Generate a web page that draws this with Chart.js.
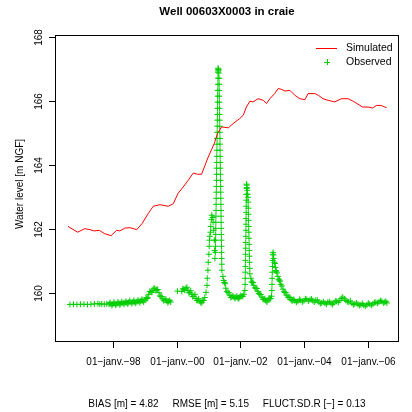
<!DOCTYPE html>
<html>
<head>
<meta charset="utf-8">
<script src="https://cdn.jsdelivr.net/npm/chart.js@4.4.0/dist/chart.umd.min.js"></script>
<style>
  html, body { margin: 0; padding: 0; background: #fff; }
  canvas { display: block; }
</style>
</head>
<body>
<canvas id="wellChart" width="412" height="412"></canvas>
<script>
// Chart texts
const chartTitle = 'Well 00603X0003 in craie';
const yAxisTitle = 'Water level [m NGF]';
const statsText = 'BIAS [m] = 4.82     RMSE [m] = 5.15     FLUCT.SD.R [\u2212] = 0.13';

// Axis ticks (x in decimal years)
const xTickYears = [1998, 2000, 2002, 2004, 2006];
const xTickLabels = ['01\u2212janv.\u221298', '01\u2212janv.\u221200', '01\u2212janv.\u221202', '01\u2212janv.\u221204', '01\u2212janv.\u221206'];
const yTicks = [160, 162, 164, 166, 168];

// Simulated water level
const simYear = [1996.58, 1996.88, 1997.11, 1997.27, 1997.40, 1997.56, 1997.72, 1997.93, 1998.11, 1998.21,
    1998.37, 1998.53, 1998.74, 1998.91, 1999.10, 1999.26, 1999.47, 1999.73, 1999.89, 2000.04,
    2000.20, 2000.36, 2000.52, 2000.65, 2000.78, 2000.99, 2001.18, 2001.28, 2001.41, 2001.62,
    2001.77, 2001.98, 2002.09, 2002.19, 2002.30, 2002.40, 2002.56, 2002.72, 2002.82, 2002.93,
    2003.08, 2003.19, 2003.30, 2003.40, 2003.56, 2003.71, 2003.87, 2004.03, 2004.13, 2004.34,
    2004.45, 2004.60, 2004.76, 2004.97, 2005.18, 2005.39, 2005.55, 2005.70, 2005.84, 2006.02,
    2006.16, 2006.28, 2006.44, 2006.49, 2006.60];
const simLevel = [162.09, 161.91, 162.02, 161.99, 161.95, 161.97, 161.87, 161.80, 161.97, 161.95,
    162.04, 162.05, 161.99, 162.18, 162.49, 162.72, 162.77, 162.72, 162.80, 163.12,
    163.32, 163.53, 163.76, 163.72, 163.72, 164.26, 164.68, 164.99, 165.20, 165.17,
    165.30, 165.46, 165.56, 165.82, 166.00, 165.98, 166.08, 166.03, 165.93, 166.08,
    166.24, 166.40, 166.37, 166.32, 166.34, 166.19, 166.08, 166.05, 166.24, 166.24,
    166.19, 166.08, 166.03, 165.98, 166.08, 166.08, 166.00, 165.91, 165.82, 165.82,
    165.79, 165.87, 165.87, 165.84, 165.80];

// Observed water level
const obsYear = [
    // sparse start
    1996.64, 1996.75, 1996.86, 1996.97, 1997.08, 1997.19, 1997.30, 1997.41, 1997.52, 1997.58, 1997.64, 1997.72, 1997.80,
    // 1998-1999
    1997.87, 1997.93, 1997.99, 1998.05, 1998.12, 1998.18, 1998.24, 1998.31, 1998.37, 1998.43,
    1998.49, 1998.56, 1998.62, 1998.68, 1998.75, 1998.81, 1998.87, 1998.93, 1999.00, 1999.06,
    1999.12, 1999.19, 1999.25, 1999.31, 1999.37, 1999.44, 1999.50, 1999.56, 1999.63, 1999.69,
    1999.75, 1999.81,
    2000.02,
    // 2000 - first peak
    2000.16, 2000.22, 2000.29, 2000.35, 2000.41, 2000.47, 2000.54, 2000.60, 2000.66, 2000.73,
    2000.79, 2000.85, 2000.88, 2000.92, 2000.95, 2000.96, 2000.98, 2000.99, 2001.01, 2001.02,
    2001.03, 2001.04, 2001.06, 2001.07, 2001.09, 2001.10, 2001.13, 2001.145, 2001.16, 2001.18,
    2001.19, 2001.20,
    // 2001 big peak, rise
    2001.215, 2001.218, 2001.221, 2001.224, 2001.227, 2001.229, 2001.232, 2001.235, 2001.238, 2001.240,
    2001.243, 2001.246, 2001.249, 2001.251, 2001.254, 2001.257, 2001.260, 2001.262, 2001.265, 2001.268,
    2001.271, 2001.273, 2001.276, 2001.279, 2001.282, 2001.284, 2001.287, 2001.290, 2001.293, 2001.295,
    2001.298, 2001.301,
    2001.305, 2001.310, 2001.315, 2001.320,
    // fall
    2001.330, 2001.333, 2001.336, 2001.338, 2001.341, 2001.344, 2001.347, 2001.349, 2001.352, 2001.355,
    2001.358, 2001.360, 2001.363, 2001.366, 2001.369, 2001.371, 2001.374, 2001.377, 2001.380, 2001.382,
    2001.385, 2001.388, 2001.391, 2001.393, 2001.396, 2001.399, 2001.402, 2001.404, 2001.407, 2001.410,
    2001.413, 2001.416, 2001.420,
    2001.45, 2001.50, 2001.54, 2001.61, 2001.67, 2001.73, 2001.80, 2001.86, 2001.92, 2001.98, 2002.05, 2002.11, 2002.14,
    // 2002 peak
    2002.150, 2002.153, 2002.156, 2002.158, 2002.161, 2002.164, 2002.167, 2002.169, 2002.172, 2002.175,
    2002.178, 2002.180, 2002.183, 2002.186, 2002.189, 2002.191, 2002.194, 2002.197,
    2002.20, 2002.21, 2002.22, 2002.23, 2002.24,
    2002.245, 2002.250, 2002.254, 2002.259, 2002.263, 2002.268, 2002.272, 2002.277, 2002.281, 2002.286,
    2002.290, 2002.295, 2002.300,
    2002.33, 2002.38, 2002.42, 2002.49, 2002.55, 2002.61, 2002.68, 2002.74, 2002.80, 2002.87, 2002.93, 2002.98,
    // 2003 peak
    2002.990, 2002.995, 2003.000, 2003.005, 2003.010, 2003.015, 2003.020,
    2003.03, 2003.04, 2003.05, 2003.07, 2003.10, 2003.13, 2003.18, 2003.23, 2003.27, 2003.34,
    2003.40, 2003.46, 2003.53, 2003.59, 2003.65,
    // 2003-2006
    2003.71, 2003.81, 2003.90, 2004.00, 2004.09, 2004.19, 2004.28, 2004.37, 2004.47, 2004.56,
    2004.66, 2004.75, 2004.85, 2004.94, 2005.03, 2005.13, 2005.22, 2005.32, 2005.41, 2005.51,
    2005.60, 2005.70, 2005.79, 2005.88, 2005.98, 2006.07, 2006.17, 2006.26, 2006.36, 2006.45,
    2006.54, 2006.61,
    // in-between readings of the dense periods
    1997.90, 1997.96, 1998.02, 1998.08, 1998.15, 1998.21, 1998.27, 1998.34, 1998.40, 1998.46,
    1998.52, 1998.59, 1998.65, 1998.71, 1998.78, 1998.84, 1998.90, 1998.96, 1999.03, 1999.09,
    1999.15, 1999.22, 1999.28, 1999.34, 1999.40, 1999.47, 1999.53, 1999.59, 1999.66, 1999.72,
    1999.78,
    2000.19, 2000.25, 2000.32, 2000.38, 2000.44, 2000.50, 2000.57, 2000.63, 2000.69, 2000.76, 2000.82,
    2001.475, 2001.52, 2001.575, 2001.64, 2001.70, 2001.765, 2001.83, 2001.89, 2001.95, 2002.015, 2002.08,
    2002.355, 2002.40, 2002.455, 2002.52, 2002.58, 2002.645, 2002.71, 2002.77, 2002.835, 2002.90, 2002.955,
    2003.085, 2003.115, 2003.155, 2003.205, 2003.25, 2003.305, 2003.37, 2003.43, 2003.495, 2003.56, 2003.62, 2003.68,
    2003.76, 2003.855, 2003.95, 2004.045, 2004.14, 2004.235, 2004.325, 2004.42, 2004.515, 2004.61,
    2004.705, 2004.80, 2004.895, 2004.985, 2005.08, 2005.175, 2005.27, 2005.365, 2005.46, 2005.555,
    2005.65, 2005.745, 2005.835, 2005.93, 2006.025, 2006.12, 2006.215, 2006.31, 2006.405, 2006.495,
    2006.575
];
const obsLevel = [
    159.65, 159.66, 159.65, 159.66, 159.66, 159.65, 159.66, 159.67, 159.68, 159.66, 159.67, 159.66, 159.67,
    159.66, 159.67, 159.66, 159.68, 159.67, 159.69, 159.68, 159.70, 159.71, 159.70,
    159.72, 159.72, 159.73, 159.72, 159.74, 159.75, 159.76, 159.77, 159.79, 159.84,
    159.97, 160.05, 160.10, 160.15, 160.12, 160.02, 159.90, 159.83, 159.79, 159.76,
    159.75, 159.73,
    160.07,
    160.06, 160.13, 160.16, 160.09, 160.03, 159.97, 159.91, 159.84, 159.78, 159.75,
    159.72, 159.78, 159.87, 160.03, 160.25, 160.47, 160.72, 160.97, 161.22, 161.47,
    161.66, 161.78, 161.91, 162.09, 162.31, 162.44, 162.37, 162.22, 161.97, 161.66,
    161.34, 161.09,
    161.28, 161.47, 161.66, 161.84, 162.03, 162.22, 162.41, 162.59, 162.78, 162.97,
    163.16, 163.34, 163.53, 163.72, 163.91, 164.09, 164.28, 164.47, 164.66, 164.84,
    165.03, 165.22, 165.41, 165.59, 165.78, 165.97, 166.16, 166.34, 166.53, 166.72,
    166.91, 167.03,
    167.00, 166.95, 166.98, 166.88,
    166.72, 166.53, 166.34, 166.16, 165.97, 165.78, 165.59, 165.41, 165.22, 165.03,
    164.84, 164.66, 164.47, 164.28, 164.09, 163.91, 163.72, 163.53, 163.34, 163.16,
    162.97, 162.78, 162.59, 162.41, 162.22, 162.03, 161.84, 161.66, 161.47, 161.28,
    161.09, 160.91, 160.72,
    160.53, 160.34, 160.16, 160.03, 159.94, 159.89, 159.88, 159.88, 159.86, 159.88, 159.91, 159.97, 160.09,
    160.28, 160.47, 160.66, 160.84, 161.03, 161.22, 161.41, 161.59, 161.78, 161.97,
    162.16, 162.34, 162.53, 162.72, 162.91, 163.09, 163.28, 163.41,
    163.38, 163.30, 163.22, 163.10, 163.00,
    162.85, 162.66, 162.47, 162.28, 162.09, 161.91, 161.72, 161.53, 161.34, 161.16,
    160.97, 160.78, 160.61,
    160.47, 160.34, 160.25, 160.16, 160.06, 159.97, 159.88, 159.81, 159.77, 159.78, 159.83, 159.91,
    160.09, 160.28, 160.47, 160.66, 160.84, 161.03, 161.22,
    161.28, 161.20, 161.09, 160.97, 160.81, 160.69, 160.53, 160.41, 160.28, 160.13,
    160.03, 159.94, 159.88, 159.81, 159.78,
    159.77, 159.75, 159.78, 159.77, 159.81, 159.80, 159.77, 159.78, 159.73, 159.70,
    159.69, 159.72, 159.69, 159.70, 159.75, 159.78, 159.88, 159.78, 159.73, 159.69,
    159.67, 159.66, 159.64, 159.63, 159.64, 159.66, 159.67, 159.72, 159.73, 159.75,
    159.72, 159.70,
    // in-between readings of the dense periods
    159.71, 159.62, 159.72, 159.63, 159.73, 159.64, 159.74, 159.66, 159.75, 159.67,
    159.77, 159.68, 159.78, 159.69, 159.79, 159.71, 159.81, 159.73, 159.86, 159.86,
    160.06, 160.03, 160.16, 160.09, 160.12, 159.92, 159.90, 159.77, 159.82, 159.71,
    159.78,
    160.14, 160.10, 160.19, 160.02, 160.08, 159.90, 159.97, 159.78, 159.83, 159.70, 159.78,
    160.40, 160.30, 160.05, 160.02, 159.87, 159.92, 159.84, 159.91, 159.83, 159.93, 159.91,
    160.36, 160.33, 160.17, 160.15, 160.00, 159.96, 159.82, 159.83, 159.73, 159.85, 159.84,
    160.93, 160.71, 160.64, 160.44, 160.38, 160.23, 160.05, 160.02, 159.88, 159.87, 159.77, 159.81,
    159.72, 159.81, 159.73, 159.83, 159.76, 159.82, 159.73, 159.79, 159.68, 159.74,
    159.66, 159.74, 159.65, 159.76, 159.72, 159.84, 159.83, 159.74, 159.76, 159.65,
    159.70, 159.62, 159.68, 159.60, 159.69, 159.63, 159.71, 159.69, 159.77, 159.70,
    159.75
];

const FONT = "'Liberation Sans', Arial, Helvetica, sans-serif";
const RED = '#FF0000';
const GREEN = '#00CD00';

const simPoints = simYear.map((x, i) => ({x, y: simLevel[i]}));
const obsPoints = obsYear.map((x, i) => ({x, y: obsLevel[i]}));

/**
 * R-like frame, ticks, labels and legend drawn from the chart scales
 */
const rAxesPlugin = {
    id: 'rAxes',
    afterDraw(chart) {
        const ctx = chart.ctx;
        const area = chart.chartArea;
        const xs = chart.scales.x;
        const ys = chart.scales.y;
        ctx.save();

        // frame
        ctx.strokeStyle = '#000';
        ctx.lineWidth = 1;
        ctx.strokeRect(area.left + 0.5, area.top + 0.5, area.right - area.left - 1, area.bottom - area.top - 1);

        ctx.fillStyle = '#000';
        ctx.font = '10px ' + FONT;

        // x ticks
        ctx.textAlign = 'center';
        ctx.textBaseline = 'middle';
        xTickYears.forEach((t, i) => {
            const px = Math.round(xs.getPixelForValue(t)) + 0.5;
            ctx.beginPath();
            ctx.moveTo(px, area.bottom);
            ctx.lineTo(px, area.bottom + 6);
            ctx.stroke();
            ctx.fillText(xTickLabels[i], px, area.bottom + 20);
        });

        // y ticks, labels rotated as in R
        yTicks.forEach(v => {
            const py = Math.round(ys.getPixelForValue(v)) + 0.5;
            ctx.beginPath();
            ctx.moveTo(area.left - 6, py);
            ctx.lineTo(area.left, py);
            ctx.stroke();
            ctx.save();
            ctx.translate(area.left - 16, py);
            ctx.rotate(-Math.PI / 2);
            ctx.fillText(String(v), 0, 0);
            ctx.restore();
        });

        // y title
        ctx.save();
        ctx.translate(20, 184);
        ctx.rotate(-Math.PI / 2);
        ctx.fillText(yAxisTitle, 0, 0);
        ctx.restore();

        // main title
        ctx.font = 'bold 11.5px ' + FONT;
        ctx.fillText(chartTitle, (area.left + area.right) / 2, 12);

        // stats line
        ctx.font = '10px ' + FONT;
        ctx.fillText(statsText, (area.left + area.right) / 2, 404);

        // legend
        ctx.textAlign = 'left';
        ctx.font = '10.5px ' + FONT;
        ctx.strokeStyle = RED;
        ctx.beginPath();
        ctx.moveTo(316, 48.5);
        ctx.lineTo(337, 48.5);
        ctx.stroke();
        ctx.strokeStyle = GREEN;
        ctx.beginPath();
        ctx.moveTo(324, 62.5);
        ctx.lineTo(330, 62.5);
        ctx.moveTo(327.5, 59);
        ctx.lineTo(327.5, 65);
        ctx.stroke();
        ctx.fillText('Simulated', 346, 48);
        ctx.fillText('Observed', 346, 62);

        ctx.restore();
    }
};

new Chart(document.getElementById('wellChart'), {
    type: 'scatter',
    data: {
        datasets: [
            {
                label: 'Simulated',
                data: simPoints,
                showLine: true,
                borderColor: RED,
                borderWidth: 1,
                pointRadius: 0,
                tension: 0,
                fill: false
            },
            {
                label: 'Observed',
                data: obsPoints,
                showLine: false,
                pointStyle: 'cross',
                pointRadius: 3,
                pointHoverRadius: 3,
                borderColor: GREEN,
                backgroundColor: GREEN,
                borderWidth: 1
            }
        ]
    },
    options: {
        responsive: false,
        animation: false,
        devicePixelRatio: 1,
        events: [],
        layout: {padding: {left: 55, right: 13, top: 35, bottom: 70}},
        plugins: {legend: {display: false}, tooltip: {enabled: false}},
        scales: {
            x: {type: 'linear', min: 1996.17, max: 2006.99, display: false},
            y: {type: 'linear', min: 158.48, max: 168.07, display: false}
        }
    },
    plugins: [rAxesPlugin]
});
</script>
</body>
</html>
